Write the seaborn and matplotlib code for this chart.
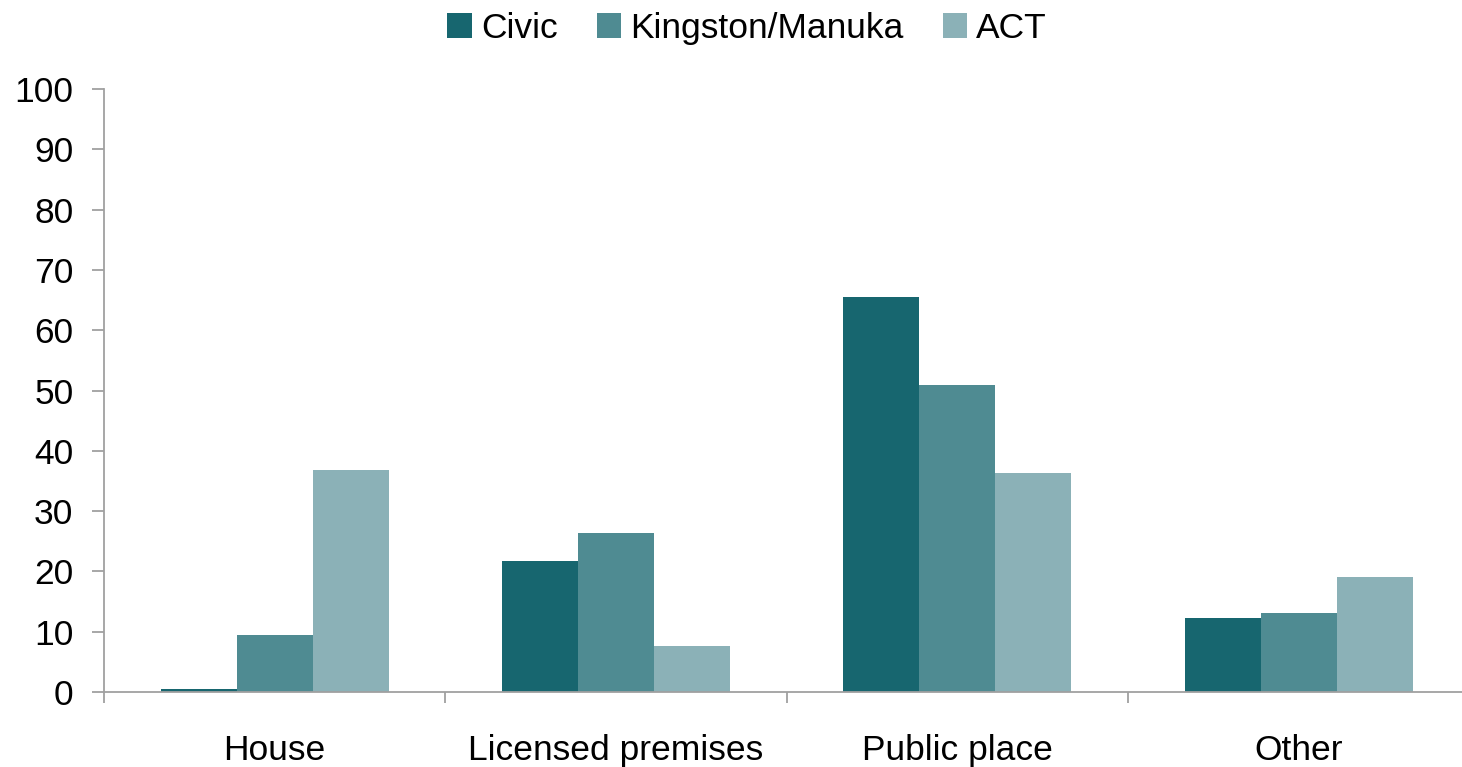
import pandas as pd
import matplotlib
matplotlib.use('Agg')
import matplotlib.pyplot as plt
import seaborn as sb

# Dados
locations = ['House', 'Licensed premises', 'Public place', 'Other']
civic = [0.5, 21.7, 65.5, 12.3]
kingston = [9.5, 26.4, 50.9, 13.1]
act = [36.8, 7.6, 36.3, 19.1]
series = ['Civic', 'Kingston/Manuka', 'ACT']
colors = ['#17666F', '#4F8B92', '#8BB1B7']

df = pd.DataFrame({'location': locations * 3,
                   'value': civic + kingston + act,
                   'area': [s for s in series for _ in locations]})

sb.set_style('white')
plt.rcParams['font.family'] = ['Liberation Sans', 'DejaVu Sans']

fig = plt.figure(figsize=(14.62, 7.67), dpi=100)
ax = fig.add_axes([0.0711, 0.0978, 0.934, 0.786])

sb.barplot(data=df, x='location', y='value', hue='area', palette=colors,
           width=0.668, saturation=1, ax=ax, linewidth=0)

ax.set_xlim(-0.5, 3.5)
ax.set_ylim(0, 100)
ax.set_yticks(range(0, 101, 10))
ax.set_xlabel('')
ax.set_ylabel('')

for s in ['top', 'right']:
    ax.spines[s].set_visible(False)
for s in ['left', 'bottom']:
    ax.spines[s].set_color('#A0A0A0')
    ax.spines[s].set_linewidth(1.3)

ax.tick_params(axis='y', labelsize=25.5, length=9, width=1.3, color='#A0A0A0',
               left=True, pad=13, labelcolor='black')
ax.tick_params(axis='x', which='major', labelsize=25.5, length=0, pad=30, labelcolor='black')
ax.set_xticks([-0.5, 0.5, 1.5, 2.5, 3.5], minor=True)
ax.tick_params(axis='x', which='minor', length=8, width=1.3, color='#A0A0A0', bottom=True)

sb.move_legend(ax, 'center', bbox_to_anchor=(0.511, 0.963), bbox_transform=fig.transFigure,
               ncol=3, frameon=False,
               title=None, fontsize=25.5, handlelength=0.7, handleheight=0.7,
               handletextpad=0.25, columnspacing=1.1)
for t in ax.get_legend().get_texts():
    t.set_color('black')

fig.savefig('out.png', dpi=100)
